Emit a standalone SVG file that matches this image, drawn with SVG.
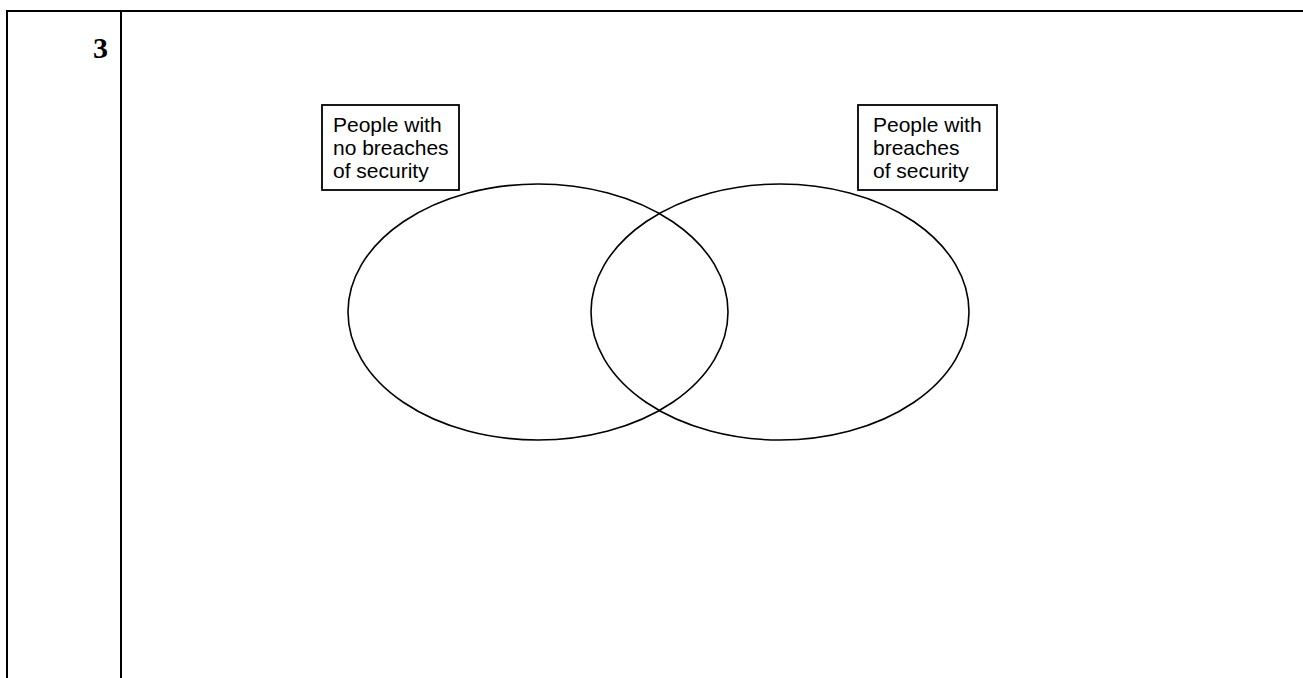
<svg xmlns="http://www.w3.org/2000/svg" width="1303" height="678" viewBox="0 0 1303 678">
<style>
.rule{stroke:#000;stroke-width:2;fill:none}
.box{fill:#fff;stroke:#000;stroke-width:1.8}
.ell{fill:none;stroke:#000;stroke-width:1.6}
.lbl{font-family:"Liberation Sans",Arial,sans-serif;font-size:21px;fill:#000}
.num{font-family:"Liberation Serif","Times New Roman",serif;font-size:30px;font-weight:bold;fill:#000}
</style>
<rect width="1303" height="678" fill="#fff"/>
<g id="table">
<line class="rule" x1="6" y1="11" x2="1303" y2="11"/>
<line class="rule" x1="7" y1="11" x2="7" y2="678"/>
<line class="rule" x1="121" y1="11" x2="121" y2="678"/>
<text class="num" x="108" y="58" text-anchor="end">3</text>
</g>
<g id="venn">
<ellipse id="set-left" class="ell" cx="538" cy="312" rx="190" ry="128"/>
<ellipse id="set-right" class="ell" cx="780" cy="312" rx="189" ry="128"/>
</g>
<g id="label-left">
<rect class="box" x="322" y="105" width="137" height="85"/>
<text class="lbl" x="333" y="132">People with</text>
<text class="lbl" x="333" y="155">no breaches</text>
<text class="lbl" x="333" y="178">of security</text>
</g>
<g id="label-right">
<rect class="box" x="858" y="105" width="139" height="85"/>
<text class="lbl" x="873" y="132">People with</text>
<text class="lbl" x="873" y="155">breaches</text>
<text class="lbl" x="873" y="178">of security</text>
</g>
</svg>
